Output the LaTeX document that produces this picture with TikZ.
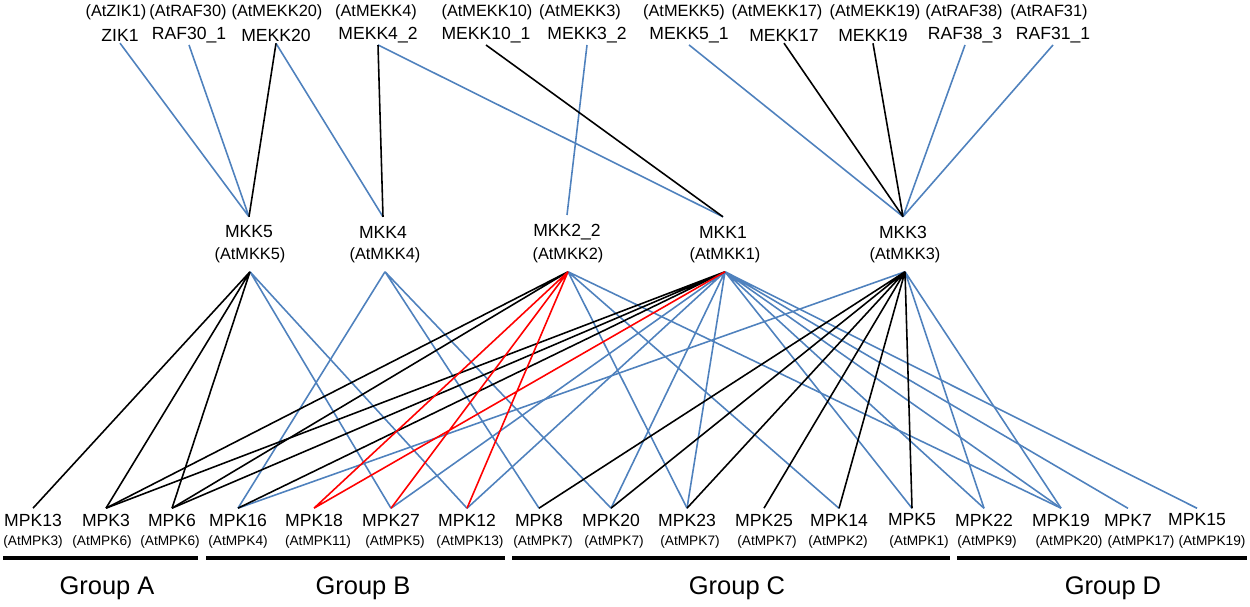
\documentclass[tikz,border=0pt]{standalone}
\usepackage{fontspec}
\setmainfont{Liberation Sans}
\usepackage{tikz}
\definecolor{lineblue}{RGB}{79,129,189}

\begin{document}
\begin{tikzpicture}[x=0.02cm, y=-0.02cm,
  gene/.style={font=\fontsize{10}{12}\selectfont, inner sep=1pt},
  ortho/.style={font=\fontsize{9.3}{11}\selectfont, inner sep=1pt},
  orthosm/.style={font=\fontsize{7.8}{9}\selectfont, inner sep=1pt},
  grp/.style={font=\fontsize{14.5}{17}\selectfont},
  bl/.style={lineblue, line width=0.9pt},
  bk/.style={black, line width=0.9pt},
  rd/.style={red, line width=0.9pt},
  bar/.style={line width=2.4pt}]
\useasboundingbox (0,0) rectangle (1250,606);

% MAPKKK row
\node[ortho] (atzik1) at (116,12) {(AtZIK1)};
\node[ortho] (atraf30) at (188,12) {(AtRAF30)};
\node[ortho] (atmekk20) at (277,12) {(AtMEKK20)};
\node[ortho] (atmekk4) at (376,12) {(AtMEKK4)};
\node[ortho] (atmekk10) at (487,12) {(AtMEKK10)};
\node[ortho] (atmekk3) at (580,12) {(AtMEKK3)};
\node[ortho] (atmekk5) at (684,12) {(AtMEKK5)};
\node[ortho] (atmekk17) at (777,12) {(AtMEKK17)};
\node[ortho] (atmekk19) at (875,12) {(AtMEKK19)};
\node[ortho] (atraf38) at (964,12) {(AtRAF38)};
\node[ortho] (atraf31) at (1049,12) {(AtRAF31)};
\node[gene] (zik1) at (120,35) {ZIK1};
\node[gene] (raf30) at (189,35) {RAF30\_1};
\node[gene] (mekk20) at (276,35) {MEKK20};
\node[gene] (mekk4) at (378,35) {MEKK4\_2};
\node[gene] (mekk10) at (486,35) {MEKK10\_1};
\node[gene] (mekk3) at (587,35) {MEKK3\_2};
\node[gene] (mekk5) at (689,35) {MEKK5\_1};
\node[gene] (mekk17) at (784,35) {MEKK17};
\node[gene] (mekk19) at (873,35) {MEKK19};
\node[gene] (raf38) at (965,35) {RAF38\_3};
\node[gene] (raf31) at (1053,35) {RAF31\_1};

% MAPKK row
\node[gene, inner sep=5pt] (mkk5) at (249,232) {MKK5};
\node[gene, inner sep=5pt] (mkk4) at (383,232) {MKK4};
\node[gene, inner sep=5pt] (mkk22) at (567,232) {MKK2\_2};
\node[gene, inner sep=5pt] (mkk1) at (723,232) {MKK1};
\node[gene, inner sep=5pt] (mkk3) at (903,232) {MKK3};
\node[ortho, inner sep=5pt] (atmkk5) at (250,255) {(AtMKK5)};
\node[ortho, inner sep=5pt] (atmkk4) at (385,255) {(AtMKK4)};
\node[ortho, inner sep=5pt] (atmkk22) at (568,255) {(AtMKK2)};
\node[ortho, inner sep=5pt] (atmkk1) at (725,255) {(AtMKK1)};
\node[ortho, inner sep=5pt] (atmkk3) at (905,255) {(AtMKK3)};

% MAPK row
\node[gene, inner sep=3pt] (mpk13) at (33,520) {MPK13};
\node[gene, inner sep=3pt] (mpk3) at (106,520) {MPK3};
\node[gene, inner sep=3pt] (mpk6) at (172,520) {MPK6};
\node[gene, inner sep=3pt] (mpk16) at (238,520) {MPK16};
\node[gene, inner sep=3pt] (mpk18) at (314,520) {MPK18};
\node[gene, inner sep=3pt] (mpk27) at (391,520) {MPK27};
\node[gene, inner sep=3pt] (mpk12) at (467,520) {MPK12};
\node[gene, inner sep=3pt] (mpk8) at (539,520) {MPK8};
\node[gene, inner sep=3pt] (mpk20) at (611,520) {MPK20};
\node[gene, inner sep=3pt] (mpk23) at (687,520) {MPK23};
\node[gene, inner sep=3pt] (mpk25) at (764,520) {MPK25};
\node[gene, inner sep=3pt] (mpk14) at (839,520) {MPK14};
\node[gene, inner sep=3pt] (mpk5) at (912,520) {MPK5};
\node[gene, inner sep=3pt] (mpk22) at (984,520) {MPK22};
\node[gene, inner sep=3pt] (mpk19) at (1061,520) {MPK19};
\node[gene, inner sep=3pt] (mpk7) at (1128,520) {MPK7};
\node[gene, inner sep=3pt] (mpk15) at (1197,520) {MPK15};
\node[orthosm] (atmpk13) at (33,542) {(AtMPK3)};
\node[orthosm] (atmpk3) at (102,542) {(AtMPK6)};
\node[orthosm] (atmpk6) at (170,542) {(AtMPK6)};
\node[orthosm] (atmpk16) at (238,542) {(AtMPK4)};
\node[orthosm] (atmpk18) at (318,542) {(AtMPK11)};
\node[orthosm] (atmpk27) at (395,542) {(AtMPK5)};
\node[orthosm] (atmpk12) at (470,542) {(AtMPK13)};
\node[orthosm] (atmpk8) at (543,542) {(AtMPK7)};
\node[orthosm] (atmpk20) at (614,542) {(AtMPK7)};
\node[orthosm] (atmpk23) at (690,542) {(AtMPK7)};
\node[orthosm] (atmpk25) at (767,542) {(AtMPK7)};
\node[orthosm] (atmpk14) at (838,542) {(AtMPK2)};
\node[orthosm] (atmpk5) at (919,542) {(AtMPK1)};
\node[orthosm] (atmpk22) at (987,542) {(AtMPK9)};
\node[orthosm] (atmpk19) at (1069,542) {(AtMPK20)};
\node[orthosm] (atmpk7) at (1141,542) {(AtMPK17)};
\node[orthosm] (atmpk15) at (1212,542) {(AtMPK19)};

% groups
\draw[bar] (3,558) -- (198,558);
\draw[bar] (206,558) -- (505,558);
\draw[bar] (512,558) -- (950,558);
\draw[bar] (957,558) -- (1247,558);
\node[grp] (grpa) at (107,588) {Group A};
\node[grp] (grpb) at (363,588) {Group B};
\node[grp] (grpc) at (737,588) {Group C};
\node[grp] (grpd) at (1113,588) {Group D};

% MAPKKK -- MAPKK
\draw[bl] (zik1.south) -- (mkk5.north) (raf30.south) -- (mkk5.north)
  (mekk20.south) -- (mkk4.north) (mekk4.south) -- (mkk1.north)
  (mekk3.south) -- (mkk22.north) (mekk5.south) -- (mkk3.north)
  (raf38.south) -- (mkk3.north) (raf31.south) -- (mkk3.north);
\draw[bk] (mekk20.south) -- (mkk5.north) (mekk4.south) -- (mkk4.north)
  (mekk10.south) -- (mkk1.north) (mekk17.south) -- (mkk3.north)
  (mekk19.south) -- (mkk3.north);

% MAPKK -- MAPK
\draw[bl] (atmkk5.south) -- (mpk27.north) (atmkk5.south) -- (mpk12.north);
\draw[bl] (atmkk4.south) -- (mpk16.north) (atmkk4.south) -- (mpk8.north)
  (atmkk4.south) -- (mpk20.north);
\draw[bl] (atmkk22.south) -- (mpk23.north) (atmkk22.south) -- (mpk14.north)
  (atmkk22.south) -- (mpk19.north);
\draw[bl] (atmkk1.south) -- (mpk27.north) (atmkk1.south) -- (mpk12.north)
  (atmkk1.south) -- (mpk20.north) (atmkk1.south) -- (mpk23.north)
  (atmkk1.south) -- (mpk5.north) (atmkk1.south) -- (mpk22.north)
  (atmkk1.south) -- (mpk19.north) (atmkk1.south) -- (mpk7.north)
  (atmkk1.south) -- (mpk15.north);
\draw[bl] (atmkk3.south) -- (mpk16.north) (atmkk3.south) -- (mpk22.north)
  (atmkk3.south) -- (mpk19.north);
\draw[bk] (atmkk5.south) -- (mpk13.north) (atmkk5.south) -- (mpk3.north)
  (atmkk5.south) -- (mpk6.north);
\draw[bk] (atmkk22.south) -- (mpk3.north) (atmkk22.south) -- (mpk6.north);
\draw[bk] (atmkk1.south) -- (mpk3.north) (atmkk1.south) -- (mpk6.north)
  (atmkk1.south) -- (mpk16.north);
\draw[bk] (atmkk3.south) -- (mpk8.north) (atmkk3.south) -- (mpk20.north)
  (atmkk3.south) -- (mpk23.north) (atmkk3.south) -- (mpk25.north)
  (atmkk3.south) -- (mpk14.north) (atmkk3.south) -- (mpk5.north);
\draw[rd] (atmkk22.south) -- (mpk18.north) (atmkk22.south) -- (mpk27.north)
  (atmkk22.south) -- (mpk12.north) (atmkk1.south) -- (mpk18.north);
\end{tikzpicture}
\end{document}
